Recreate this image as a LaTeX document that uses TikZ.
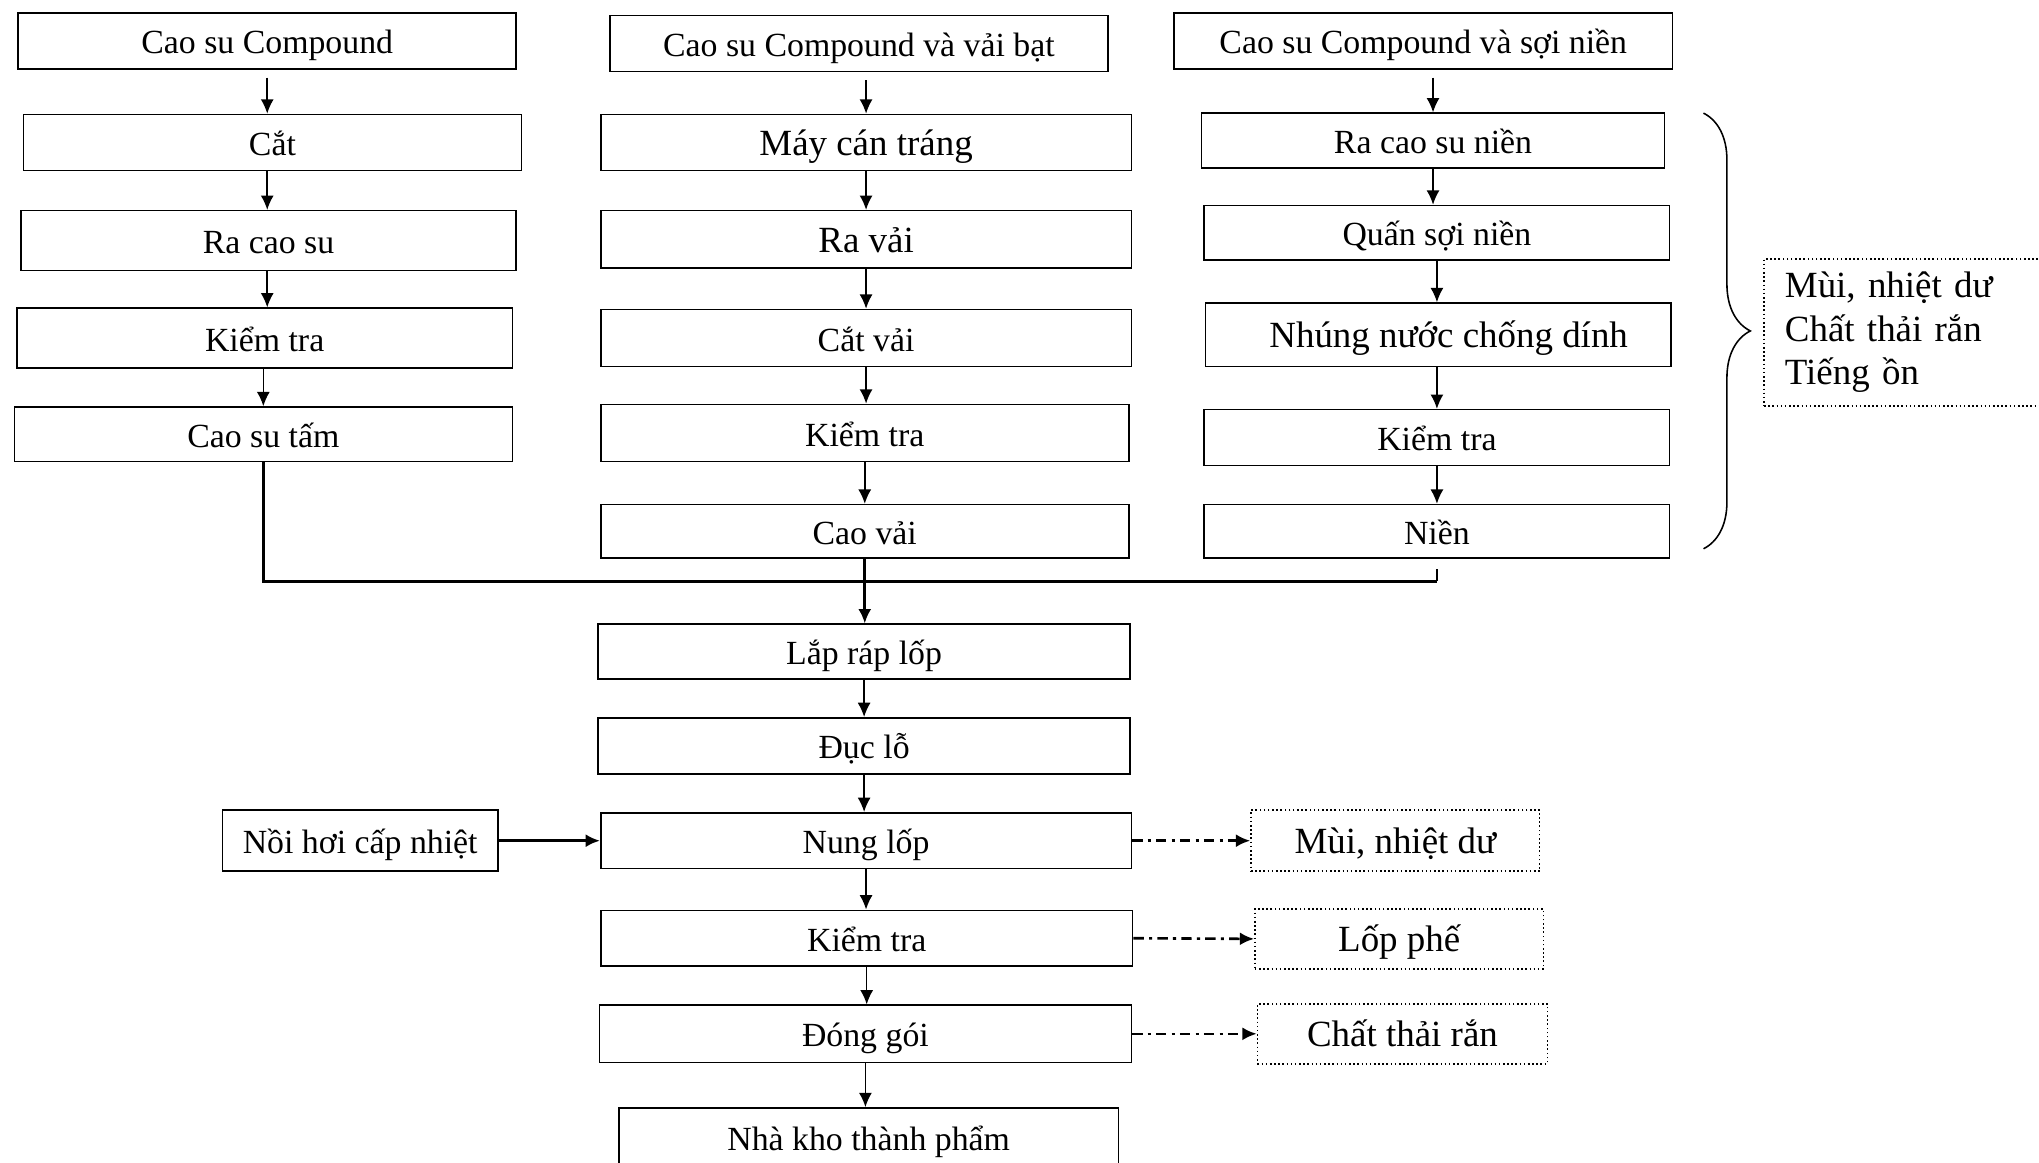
\documentclass[tikz,border=0pt]{standalone}
\usepackage{fontspec}
\setmainfont{Liberation Serif}
\usetikzlibrary{arrows.meta,decorations.pathreplacing}
\begin{document}
\begin{tikzpicture}[x=0.5pt,y=-0.5pt,
  tb/.style={text height=11.5pt, text depth=1.5pt},
  box/.style={draw, line width=0.6pt, inner sep=0pt, tb, font=\fontsize{13}{15}\selectfont},
  big/.style={font=\fontsize{14.2}{17}\selectfont},
  waste/.style={draw, densely dotted, line width=0.6pt, inner sep=0pt, font=\fontsize{14.2}{17}\selectfont},
  wh/.style 2 args={minimum width=#1*0.5pt, minimum height=#2*0.5pt},
  arr/.style={-{Latex[length=5.5pt,width=5pt]}, line width=0.6pt},
  flow/.style={dash pattern=on 4pt off 2pt on 1.2pt off 2pt, line width=1pt, -{Latex[length=5.5pt,width=5pt]}},
  bus/.style={line width=1.2pt}]
\useasboundingbox (0,0) rectangle (1568,894);
\clip (0,0) rectangle (1568,894);

% column 1
\node[box, wh={383}{43}] (c1a) at (205.5,31.5) {Cao su Compound};
\node[box, wh={383}{43}] (c1b) at (209.5,109.5) {Cắt};
\node[box, wh={381}{46}] (c1c) at (206.5,185) {Ra cao su};
\node[box, wh={381}{46}] (c1d) at (203.5,260) {Kiểm tra};
\node[box, wh={383}{42}] (c1e) at (202.5,334) {Cao su tấm};

% column 2
\node[box, wh={383}{43}] (c2a) at (660.5,33.5) {Cao su Compound và vải bạt};
\node[box, big, wh={408}{43}] (c2b) at (666,109.5) {Máy cán tráng};
\node[box, big, wh={408}{44}] (c2c) at (666,184) {Ra vải};
\node[box, wh={408}{44}] (c2d) at (666,260) {Cắt vải};
\node[box, wh={406}{44}] (c2e) at (665,333) {Kiểm tra};
\node[box, wh={406}{41}] (c2f) at (665,408.5) {Cao vải};

% column 3
\node[box, wh={383}{43}] (c3a) at (1094.5,31.5) {Cao su Compound và sợi niền};
\node[box, wh={356}{42}] (c3b) at (1102,108) {Ra cao su niền};
\node[box, wh={358}{42}] (c3c) at (1105,179) {Quấn sợi niền};
\node[box, big, wh={358}{49}] (c3d) at (1106,257.5) {\hspace*{8pt}Nhúng nước chống dính};
\node[box, wh={358}{43}] (c3e) at (1105,336.5) {Kiểm tra};
\node[box, wh={358}{41}] (c3f) at (1105,408.5) {Niền};

% side waste box
\node[waste, anchor=west, wh={212}{113}, inner xsep=8pt, text width=90pt, align=left,
      font=\fontsize{14.2}{16.8}\selectfont] (side) at (1356,255.5)
  {Mùi, nhiệt dư\\Chất thải rắn\\Tiếng ồn};

% middle chain
\node[box, wh={409}{42}] (m1) at (664.5,501) {Lắp ráp lốp};
\node[box, wh={409}{43}] (m2) at (664.5,573.5) {Đục lỗ};
\node[box, wh={408}{43}] (m3) at (666,646.5) {Nung lốp};
\node[box, wh={409}{43}] (m4) at (666.5,721.5) {Kiểm tra};
\node[box, wh={409}{44}] (m5) at (665.5,795) {Đóng gói};
\node[box, wh={384}{46}] (m6) at (668,875) {Nhà kho thành phẩm};

\node[box, wh={212}{47}] (boiler) at (277,646.5) {Nồi hơi cấp nhiệt};
\node[waste, tb, wh={222}{47}] (r1) at (1073,646.5) {Mùi, nhiệt dư};
\node[waste, tb, wh={222}{46}] (r2) at (1076,722) {Lốp phế};
\node[waste, tb, wh={223}{46}] (r3) at (1078.5,795) {Chất thải rắn};

% arrows column 1
\draw[arr, shorten <=3pt] (c1a.south) -- (c1a.south |- c1b.north);
\draw[arr] (c1b.south -| c1a.south) -- (c1a.south |- c1c.north);
\draw[arr] (c1c.south -| c1a.south) -- (c1a.south |- c1d.north);
\draw[arr] (c1d.south -| c1e.south) -- (c1e.north);

% arrows column 2
\draw[arr, shorten <=3pt] (c2a.south -| c2b.north) -- (c2b.north);
\draw[arr] (c2b.south) -- (c2c.north);
\draw[arr] (c2c.south) -- (c2d.north);
\draw[arr] (c2d.south) -- (c2d.south |- c2e.north);
\draw[arr] (c2e.south) -- (c2f.north);

% arrows column 3
\draw[arr, shorten <=3pt] (c3a.south -| c3b.north) -- (c3b.north);
\draw[arr] (c3b.south) -- (c3b.south |- c3c.north);
\draw[arr] (c3c.south) -- (c3c.south |- c3d.north);
\draw[arr] (c3d.south -| c3e.north) -- (c3e.north);
\draw[arr] (c3e.south) -- (c3f.north);

% brace
\draw[decorate, decoration={brace, amplitude=18pt}, line width=0.6pt] (1310,87) -- (1310,422);

% bus
\coordinate (busy) at (0,447);
\draw[bus] (c1e.south) -- (c1e.south |- busy) -- (c3f.south |- busy);
\draw[line width=0.8pt] (c3f.south |- busy) -- ([yshift=-4pt]c3f.south);
\draw[arr, line width=1pt] (c2f.south) -- (c2f.south |- m1.north);

% middle arrows
\draw[arr] (m1.south) -- (m1.south |- m2.north);
\draw[arr] (m2.south) -- (m2.south |- m3.north);
\draw[arr] (m3.south) -- (m3.south |- m4.north);
\draw[arr] (m4.south) -- (m4.south |- m5.north);
\draw[arr] (m5.south) -- (m5.south |- m6.north);

\draw[arr, line width=1.1pt] (boiler.east) -- (m3.west);
\draw[flow] (m3.east) -- (r1.west);
\draw[flow] (m4.east) -- (r2.west);
\draw[flow] (m5.east) -- (r3.west);
\end{tikzpicture}
\end{document}
